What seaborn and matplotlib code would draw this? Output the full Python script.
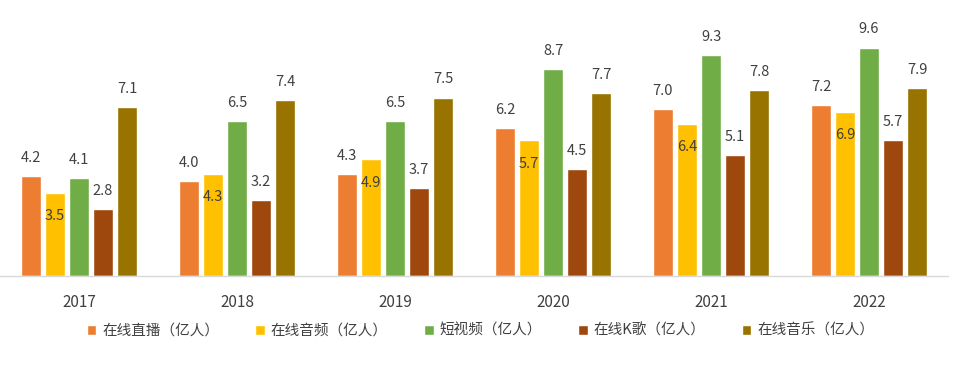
import matplotlib
matplotlib.use("Agg")
import matplotlib.pyplot as plt
import seaborn as sns
import pandas as pd

years = ["2017", "2018", "2019", "2020", "2021", "2022"]
series_names = ["在线直播（亿人）", "在线音频（亿人）", "短视频（亿人）", "在线K歌（亿人）", "在线音乐（亿人）"]
live = [4.2, 4.0, 4.3, 6.2, 7.0, 7.2]
audio = [3.5, 4.3, 4.9, 5.7, 6.4, 6.9]
short_video = [4.1, 6.5, 6.5, 8.7, 9.3, 9.6]
karaoke = [2.8, 3.2, 3.7, 4.5, 5.1, 5.7]
music = [7.1, 7.4, 7.5, 7.7, 7.8, 7.9]
colors = ["#ED7D31", "#FFC000", "#70AD47", "#9E480E", "#997300"]

rows = []
for name, vals in zip(series_names, [live, audio, short_video, karaoke, music]):
    for y, v in zip(years, vals):
        rows.append({"year": y, "series": name, "value": v})
df = pd.DataFrame(rows)

sns.set_theme(style="white")
plt.rcParams["font.family"] = ["Noto Sans CJK SC", "DejaVu Sans"]

fig = plt.figure(figsize=(9.61, 3.74), dpi=100)
ax = fig.add_axes([0.0, (374 - 276) / 374, 948 / 961, (276 - 8) / 374])

sns.barplot(data=df, x="year", y="value", hue="series", hue_order=series_names,
            palette=colors, width=0.76, gap=0.2, saturation=1, ax=ax,
            errorbar=None, legend=True)

ax.set_xlim(-0.5, 5.5)
ax.set_ylim(0, 268 / 23.8)

for i, cont in enumerate(ax.containers):
    if i == 1:
        ax.bar_label(cont, fmt="%.1f", padding=-22, fontsize=10.5, color="#404040")
    else:
        ax.bar_label(cont, fmt="%.1f", padding=8, fontsize=10.5, color="#404040")

for s in ["top", "left", "right"]:
    ax.spines[s].set_visible(False)
ax.spines["bottom"].set_color("#d9d9d9")
ax.spines["bottom"].set_linewidth(1)
ax.set_yticks([])
ax.set_xlabel("")
ax.set_ylabel("")
ax.tick_params(axis="x", length=0, pad=13, labelsize=11, labelcolor="#404040")

handles, labels = ax.get_legend_handles_labels()
ax.get_legend().remove()
fig.legend(handles, labels, ncol=5, loc="center", bbox_to_anchor=(0.5, 1 - 331 / 374),
           frameon=False, fontsize=10.5, handlelength=0.65, handleheight=0.65,
           handletextpad=0.4, columnspacing=2.5, labelcolor="#404040")

fig.savefig("out.png", dpi=100)
